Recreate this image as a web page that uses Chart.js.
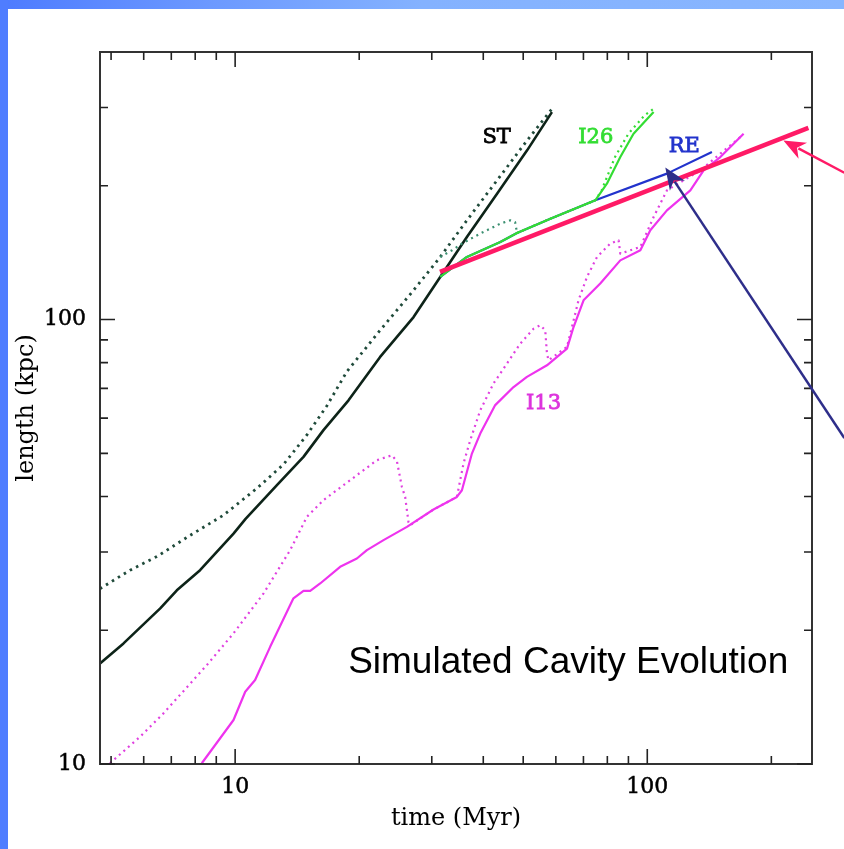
<!DOCTYPE html>
<html><head><meta charset="utf-8">
<script src="https://cdn.jsdelivr.net/npm/chart.js@4.4.1/dist/chart.umd.min.js"></script>
<style>
html,body{margin:0;padding:0;background:#fff;overflow:hidden;}
#wrap{position:relative;width:844px;height:849px;}
#topbar{position:absolute;left:0;top:0;width:844px;height:9px;background:linear-gradient(to right,#4d7bff 0%,#6c99ff 25%,#84b2ff 50%,#88b6ff 100%);}
#leftbar{position:absolute;left:0;top:0;width:8px;height:849px;background:#4f7dff;}
canvas{position:absolute;left:0;top:0;}
</style></head><body>
<div id="wrap"><div id="topbar"></div><div id="leftbar"></div><canvas id="c" width="844" height="849"></canvas></div>
<script>
// ---- data (time in Myr, length in kpc) ----
const stSolidT = [4.70, 5.36, 6.58, 7.22, 8.22, 9.91, 10.6, 12.63, 14.65, 16.38, 18.84, 22.48, 27.1, 31.45, 36.5, 43.2, 51.1, 58.7];
const stSolidL = [16.84, 18.68, 22.39, 24.6, 27.3, 33.0, 35.6, 42.4, 49.1, 56.4, 65.8, 82.4, 101.3, 124.7, 153.4, 192.0, 240.3, 293];
const stDotT = [4.70, 5.56, 6.46, 7.78, 9.37, 11.29, 13.1, 14.93, 16.7, 18.67, 22.48, 27.1, 31.45, 36.5, 43.2, 51.1, 58.7];
const stDotL = [24.8, 27.3, 29.3, 32.7, 36.3, 41.7, 47.2, 55.0, 64.0, 76.4, 94.6, 116.4, 138.3, 167.2, 205.7, 253, 298];

const reT = [31.45, 36.5, 44.0, 48.3, 58.2, 74.8, 111.6, 143.5];
const reL = [124.7, 138.3, 149.5, 156.6, 168.7, 185.5, 213, 238.2];

const i26T = [31.45, 36.5, 44.0, 48.3, 58.2, 74.8, 79.8, 86.0, 92.6, 103.6];
const i26L = [124.7, 138.3, 149.5, 156.6, 168.7, 185.5, 202.2, 232.1, 262, 293];
const i26DotT = [31.45, 33.6, 35.5, 39.3, 44.0, 46.5, 47.8, 48.3, 58.2, 74.8, 77.5, 83.5, 90.0, 98.5, 103.6];
const i26DotL = [138.3, 143.2, 148.2, 156.1, 164.4, 167.2, 165.5, 156.6, 168.7, 185.5, 195.4, 232.1, 262, 288, 298];

const i13T = [8.30, 9.91, 10.58, 11.18, 12.16, 13.85, 14.65, 15.21, 16.08, 17.98, 19.74, 20.88, 22.91, 26.11, 30.29, 34.52, 35.50, 37.54, 39.33, 42.76, 47.37, 51.05, 57.09, 63.85, 66.24, 70.04, 76.9, 86.0, 96.2, 101.7, 111.6, 127.2, 137.0, 150.4, 171.3];
const i13L = [10.04, 12.56, 14.54, 15.45, 18.35, 23.59, 24.53, 24.53, 25.48, 27.78, 29.0, 30.28, 31.89, 34.17, 37.38, 39.9, 41.3, 49.95, 55.4, 64.2, 70.5, 74.3, 78.9, 86.0, 96.2, 110.5, 120.5, 135.9, 143.2, 158.8, 176.1, 195.3, 216.6, 232.1, 262];
const i13DotT = [4.97, 5.88, 6.70, 7.92, 8.54, 9.91, 11.72, 13.60, 14.93, 16.38, 19.01, 22.08, 24.01, 24.69, 25.39, 25.86, 26.34, 26.59, 30.29, 34.52, 35.82, 37.19, 39.33, 42.35, 45.65, 49.19, 52.97, 55.0, 56.55, 57.09, 57.6, 63.85, 65.65, 68.1, 71.4, 75.5, 81.3, 85.2, 86.0, 96.2, 103.6, 111.6, 122.5, 134.5, 150.4, 168.2];
const i13DotL = [10.04, 11.52, 13.0, 15.45, 16.70, 19.68, 24.2, 30.28, 35.98, 39.24, 43.5, 48.26, 49.5, 48.0, 42.0, 39.85, 35.0, 34.46, 37.38, 39.9, 47.45, 53.5, 62.5, 71.8, 79.6, 88.3, 95.4, 97.1, 94.6, 83.8, 81.0, 86.8, 96.2, 110.5, 124.7, 138.3, 148.2, 150.8, 140.7, 145.7, 170.1, 195.3, 205.7, 216.6, 236.2, 257.4];

const fitT = [31.4, 246];
const fitL = [128, 270];

const xTickLabels = [10, 100];
const yTickLabels = [10, 100];

const curveLabels = [
  {text: 'ST',  t: 43.1, L: 249,   color: '#000000'},
  {text: 'I26', t: 75.0, L: 249,   color: '#33dd33'},
  {text: 'RE',  t: 123,  L: 238.2, color: '#2233cc'},
  {text: 'I13', t: 56.0, L: 62.8,  color: '#dd33dd'}
];
const arrows = [
  {fromT: 300.7, fromL: 54.1, toT: 110.6, toL: 220, color: '#2e2e8a'},
  {fromT: 300.7, fromL: 214,  toT: 213.9, toL: 253, color: '#ff1a66'}
];
const caption = {text: 'Simulated Cavity Evolution', t: 18.8, L: 16.02};

// ---- build ----
const pts = (T, L) => T.map((t, i) => ({x: t, y: L[i]}));
const base = {pointRadius: 0, tension: 0, fill: false, borderJoinStyle: 'round'};

const datasets = [
  Object.assign({}, base, {data: pts(fitT, fitL), borderColor: '#ff1a66', borderWidth: 4.5}),
  Object.assign({}, base, {data: pts(i26T, i26L), borderColor: '#33dd33', borderWidth: 2.2}),
  Object.assign({}, base, {data: pts(i26DotT, i26DotL), borderColor: '#33dd33', borderWidth: 2.2, borderDash: [2, 4],
    segment: {borderColor: c => (c.p1.parsed.x <= 48.4 ? '#3a8f70' : '#33dd33')}}),
  Object.assign({}, base, {data: pts(reT, reL), borderColor: '#2233cc', borderWidth: 2.2}),
  Object.assign({}, base, {data: pts(stSolidT, stSolidL), borderColor: '#0d2318', borderWidth: 2.6}),
  Object.assign({}, base, {data: pts(stDotT, stDotL), borderColor: '#1f4a3a', borderWidth: 2.8, borderDash: [2.5, 4.5]}),
  Object.assign({}, base, {data: pts(i13T, i13L), borderColor: '#ee33ee', borderWidth: 2.2}),
  Object.assign({}, base, {data: pts(i13DotT, i13DotL), borderColor: '#e040e0', borderWidth: 2.2, borderDash: [2, 4]})
];

const serif = "'DejaVu Serif', serif";

const framePlugin = {
  id: 'frame',
  afterDatasetsDraw(chart) {
    const {ctx, chartArea: a, scales: {x, y}} = chart;
    ctx.save();
    // curve labels
    ctx.font = "21px " + serif;
    ctx.textAlign = 'center';
    ctx.textBaseline = 'alphabetic';
    ctx.lineWidth = 0.8;
    curveLabels.forEach(l => {
      ctx.fillStyle = l.color;
      ctx.strokeStyle = l.color;
      const px = x.getPixelForValue(l.t), py = y.getPixelForValue(l.L);
      ctx.fillText(l.text, px, py);
      ctx.strokeText(l.text, px, py);
    });
    // caption
    ctx.font = "37px 'Liberation Sans', Arial, sans-serif";
    ctx.textAlign = 'left';
    ctx.fillStyle = '#000';
    ctx.fillText(caption.text, x.getPixelForValue(caption.t), y.getPixelForValue(caption.L));
    // box
    ctx.strokeStyle = '#333';
    ctx.lineWidth = 2;
    ctx.strokeRect(a.left, a.top, a.right - a.left, a.bottom - a.top);
    // inward ticks on all sides
    ctx.lineWidth = 1.6;
    ctx.strokeStyle = '#222';
    const minor = 8, major = 15;
    const xmin = x.min, xmax = x.max, ymin = y.min, ymax = y.max;
    for (let d = 1; d <= 1000; d *= 10) {
      for (let m = 1; m <= 9; m++) {
        const v = m * d;
        const len = m === 1 ? major : minor;
        if (v > xmin && v < xmax) {
          const px = x.getPixelForValue(v);
          ctx.beginPath();
          ctx.moveTo(px, a.bottom); ctx.lineTo(px, a.bottom - len);
          ctx.moveTo(px, a.top); ctx.lineTo(px, a.top + len);
          ctx.stroke();
        }
        if (v >= ymin && v < ymax) {
          const py = y.getPixelForValue(v);
          ctx.beginPath();
          ctx.moveTo(a.left, py); ctx.lineTo(a.left + len, py);
          ctx.moveTo(a.right, py); ctx.lineTo(a.right - len, py);
          ctx.stroke();
        }
      }
    }
    // arrows
    arrows.forEach(ar => {
      const x0 = x.getPixelForValue(ar.fromT), y0 = y.getPixelForValue(ar.fromL);
      const x1 = x.getPixelForValue(ar.toT), y1 = y.getPixelForValue(ar.toL);
      const ang = Math.atan2(y1 - y0, x1 - x0);
      const hl = 22, hw = 9;
      const bx = x1 - hl * Math.cos(ang), by = y1 - hl * Math.sin(ang);
      ctx.strokeStyle = ar.color;
      ctx.fillStyle = ar.color;
      ctx.lineWidth = 2.5;
      ctx.beginPath();
      ctx.moveTo(x0, y0); ctx.lineTo(bx + 5 * Math.cos(ang), by + 5 * Math.sin(ang));
      ctx.stroke();
      ctx.beginPath();
      ctx.moveTo(x1, y1);
      ctx.lineTo(bx + hw * Math.sin(ang), by - hw * Math.cos(ang));
      ctx.lineTo(bx + 0.3 * hl * Math.cos(ang), by + 0.3 * hl * Math.sin(ang));
      ctx.lineTo(bx - hw * Math.sin(ang), by + hw * Math.cos(ang));
      ctx.closePath();
      ctx.fill();
    });
    ctx.restore();
  }
};

new Chart(document.getElementById('c'), {
  type: 'line',
  data: {datasets},
  options: {
    responsive: false,
    animation: false,
    events: [],
    layout: {padding: {top: 52, right: 32, left: 0, bottom: 0}},
    plugins: {legend: {display: false}, tooltip: {enabled: false}},
    scales: {
      x: {
        type: 'logarithmic', min: 4.7, max: 251,
        afterBuildTicks: s => { s.ticks = xTickLabels.map(v => ({value: v})); },
        afterFit: s => { s.height = 85; },
        grid: {display: false, drawTicks: false},
        border: {display: false},
        ticks: {color: '#000', font: {family: serif, size: 22}, padding: 10, maxRotation: 0, autoSkip: false,
          textStrokeColor: '#000', textStrokeWidth: 0.5, callback: v => String(v)},
        title: {display: true, text: 'time (Myr)', color: '#000', font: {family: serif, size: 24}, padding: {top: 0, bottom: 16}}
      },
      y: {
        type: 'logarithmic', min: 10, max: 400,
        afterBuildTicks: s => { s.ticks = yTickLabels.map(v => ({value: v})); },
        afterFit: s => { s.width = 100; },
        grid: {display: false, drawTicks: false},
        border: {display: false},
        ticks: {color: '#000', font: {family: serif, size: 22}, padding: 14, autoSkip: false,
          textStrokeColor: '#000', textStrokeWidth: 0.5, callback: v => String(v)},
        title: {display: true, text: 'length (kpc)', color: '#000', font: {family: serif, size: 24}, padding: {top: 12, bottom: 0}}
      }
    }
  },
  plugins: [framePlugin]
});
</script>
</body></html>
